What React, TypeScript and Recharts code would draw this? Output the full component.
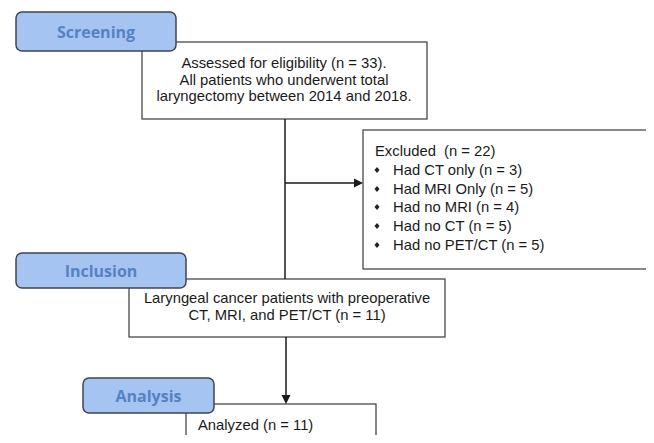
import React from "react"
import { ComposedChart, XAxis, YAxis, ReferenceArea, ReferenceLine, Scatter } from "recharts"

// flowchart laid out on a 654 x 443 data grid (y grows downward)
const stageNames = ["Screening", "Inclusion", "Analysis"]
const stageX = [[16, 176], [16, 186], [83, 214]]
const stageY = [[12, 51], [253, 288], [378, 413]]

const boxX = [[142, 427], [363, 652], [129, 445], [186, 376]]
const boxY = [[42, 119], [130, 269], [279, 337], [404, 460]]

const connectors = [
  { from: [285, 119], to: [285, 279] },
  { from: [285, 183], to: [358, 183] },
  { from: [286, 337], to: [286, 399] },
]
const arrowTips = [
  { x: 363, y: 183, dir: "right" },
  { x: 286, y: 404, dir: "down" },
]

const centeredLines = [
  { x: 284, y: 68, text: "Assessed for eligibility (n = 33)." },
  { x: 284, y: 85, text: "All patients who underwent total" },
  { x: 284, y: 101, text: "laryngectomy between 2014 and 2018." },
  { x: 287, y: 303, text: "Laryngeal cancer patients with preoperative" },
  { x: 287, y: 320, text: "CT, MRI, and PET/CT (n = 11)" },
]
const leftLines = [
  { x: 375, y: 156, text: "Excluded  (n = 22)" },
  { x: 198, y: 430, text: "Analyzed (n = 11)" },
]
const bulletItems = [
  "Had CT only (n = 3)",
  "Had MRI Only (n = 5)",
  "Had no MRI (n = 4)",
  "Had no CT (n = 5)",
  "Had no PET/CT (n = 5)",
]
const bulletY = [175, 194, 212, 231, 250]

const textFont = "'Liberation Sans', Arial, sans-serif"
const tabFont = "'Open Sans', Lato, sans-serif"

const plainRect = (p: any) => (
  <rect x={p.x} y={p.y} width={p.width} height={p.height} fill="#fff" stroke="#3a3a3a" strokeWidth={1.2} />
)
const tabRect = (p: any) => (
  <rect x={p.x} y={p.y} width={p.width} height={p.height} rx={6} ry={6} fill="#a6c4f2" stroke="#3f4650" strokeWidth={1.5} />
)

const textPoints = [
  ...centeredLines.map((l) => ({ ...l, anchor: "middle", kind: "plain" })),
  ...leftLines.map((l) => ({ ...l, anchor: "start", kind: "plain" })),
  ...bulletItems.map((t, i) => ({ x: 393, y: bulletY[i], text: t, anchor: "start", kind: "plain" })),
  ...bulletItems.map((t, i) => ({ x: 377, y: bulletY[i] - 5, text: "", anchor: "middle", kind: "bullet" })),
  ...stageNames.map((s, i) => ({
    x: (stageX[i][0] + stageX[i][1]) / 2,
    y: (stageY[i][0] + stageY[i][1]) / 2 + 6,
    text: s,
    anchor: "middle",
    kind: "tab",
  })),
]

const arrowData = arrowTips.map((a) => ({ x: a.x, y: a.y, dir: a.dir }))

const TextShape = (props: any) => {
  const { cx, cy, payload } = props
  if (payload.kind === "bullet") {
    return <path d={`M${cx},${cy - 3} L${cx + 2.5},${cy} L${cx},${cy + 3} L${cx - 2.5},${cy} Z`} fill="#222" />
  }
  if (payload.kind === "tab") {
    return (
      <text x={cx} y={cy} textAnchor="middle" fontFamily={tabFont} fontWeight={700} fontSize={16} fill="#5582c0">
        {payload.text}
      </text>
    )
  }
  return (
    <text
      x={cx}
      y={cy}
      textAnchor={payload.anchor}
      fontFamily={textFont}
      fontSize={14.8}
      fill="#1a1a1a"
      style={{ whiteSpace: "pre" }}
    >
      {payload.text}
    </text>
  )
}

const ArrowShape = (props: any) => {
  const { cx, cy, payload } = props
  const d =
    payload.dir === "right"
      ? `M${cx},${cy} L${cx - 9},${cy - 4.5} L${cx - 9},${cy + 4.5} Z`
      : `M${cx},${cy} L${cx - 4.5},${cy - 9} L${cx + 4.5},${cy - 9} Z`
  return <path d={d} fill="#1a1a1a" />
}

export default function App() {
  return (
    <div style={{ margin: -8, background: "#fff", width: 654, height: 443 }}>
      <ComposedChart width={654} height={443} margin={{ top: 0, right: 0, bottom: 0, left: 0 }}>
        <XAxis type="number" dataKey="x" domain={[0, 654]} hide allowDataOverflow />
        <YAxis type="number" dataKey="y" domain={[0, 443]} reversed hide allowDataOverflow width={0} />
        {connectors.map((c, i) => (
          <ReferenceLine
            key={`c${i}`}
            segment={[{ x: c.from[0], y: c.from[1] }, { x: c.to[0], y: c.to[1] }]}
            stroke="#1a1a1a"
            strokeWidth={1.5}
            ifOverflow="visible"
          />
        ))}
        {boxX.map((bx, i) => (
          <ReferenceArea
            key={`b${i}`}
            x1={bx[0]}
            x2={bx[1]}
            y1={boxY[i][0]}
            y2={boxY[i][1]}
            ifOverflow="visible"
            shape={plainRect}
          />
        ))}
        {stageX.map((sx, i) => (
          <ReferenceArea
            key={`s${i}`}
            x1={sx[0]}
            x2={sx[1]}
            y1={stageY[i][0]}
            y2={stageY[i][1]}
            ifOverflow="visible"
            shape={tabRect}
          />
        ))}
        <Scatter data={arrowData} dataKey="y" shape={ArrowShape} isAnimationActive={false} />
        <Scatter data={textPoints} dataKey="y" shape={TextShape} isAnimationActive={false} />
      </ComposedChart>
    </div>
  )
}
